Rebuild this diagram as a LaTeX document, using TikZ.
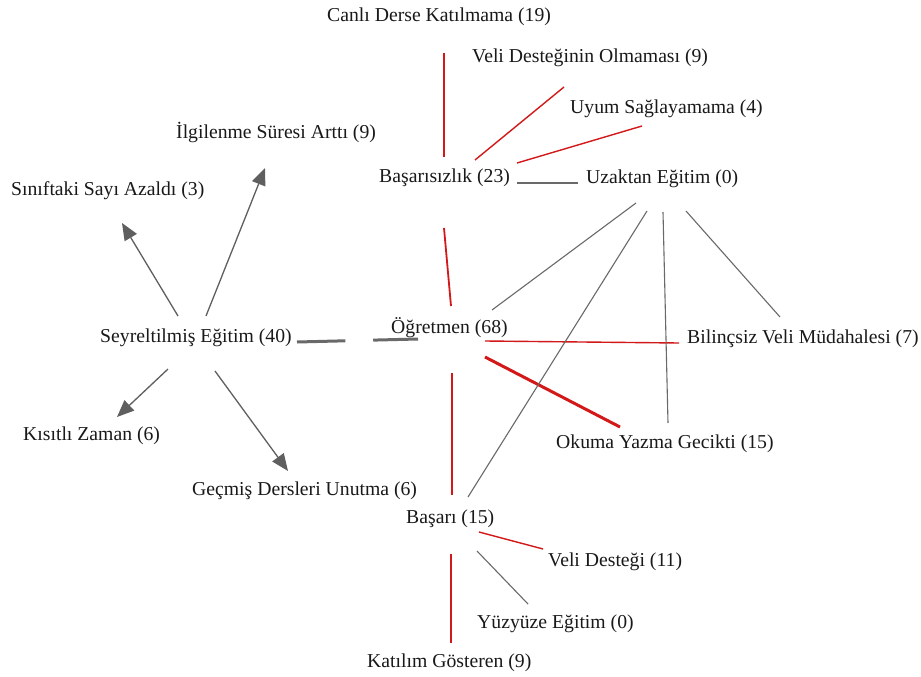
\documentclass[tikz,border=0pt]{standalone}
\usepackage{fontspec}
\setmainfont{Liberation Serif}
\usetikzlibrary{arrows.meta,calc}
\definecolor{linkred}{RGB}{210,24,24}
\definecolor{linkgray}{RGB}{105,105,105}
\definecolor{arrgray}{RGB}{95,95,95}
\tikzset{
  lbl/.style={anchor=base west,inner sep=0pt,font=\fontsize{19.7}{23}\selectfont,text=black!90},
  rl/.style={draw=linkred,line width=1.4pt},
  rlthick/.style={draw=linkred,line width=3pt},
  gl/.style={draw=linkgray,line width=1.1pt},
  glthick/.style={draw=linkgray,line width=3pt},
  arr/.style={draw=arrgray,line width=1.3pt,-{Triangle[length=17pt,width=14pt]}}
}
\begin{document}
\begin{tikzpicture}[x=1pt,y=-1pt]
\useasboundingbox[fill=white] (0,0) rectangle (921,677);
% nodes
\node[lbl] (canli)  at (327,22)  {Canlı Derse Katılmama (19)};
\node[lbl] (velio)  at (472,63)  {Veli Desteğinin Olmaması (9)};
\node[lbl] (uyum)   at (570,113) {Uyum Sağlayamama (4)};
\node[lbl] (ilgi)   at (176,138) {İlgilenme Süresi Arttı (9)};
\node[lbl] (sinif)  at (11,195)  {Sınıftaki Sayı Azaldı (3)};
\node[lbl] (basz)   at (379,182) {Başarısızlık (23)};
\node[lbl] (uzak)   at (586,183) {Uzaktan Eğitim (0)};
\node[lbl] (seyr)   at (100,342) {Seyreltilmiş Eğitim (40)};
\node[lbl] (ogr)    at (391,333) {Öğretmen (68)};
\node[lbl] (bilinc) at (687,343) {Bilinçsiz Veli Müdahalesi (7)};
\node[lbl] (kisit)  at (23,440)  {Kısıtlı Zaman (6)};
\node[lbl] (okuma)  at (556,448) {Okuma Yazma Gecikti (15)};
\node[lbl] (gecmis) at (192,495) {Geçmiş Dersleri Unutma (6)};
\node[lbl] (basari) at (406,523) {Başarı (15)};
\node[lbl] (velid)  at (548,566) {Veli Desteği (11)};
\node[lbl] (yuz)    at (477,628) {Yüzyüze Eğitim (0)};
\node[lbl] (katil)  at (367,667) {Katılım Gösteren (9)};
% red links
\draw[rl] ($(canli.base west)+(117,31)$) -- ($(basz.base west)+(65,-25)$);
\draw[rl] ($(velio.base west)+(92,24)$) -- ($(basz.base west)+(96,-22)$);
\draw[rl] ($(uyum.base west)+(72,13)$) -- ($(basz.base west)+(138,-19)$);
\draw[rl,line width=1.8pt] ($(basz.base west)+(65,46)$) -- ($(ogr.base west)+(60,-27)$);
\draw[rl] ($(ogr.base west)+(94,8)$) -- ($(bilinc.base west)+(-8,0)$);
\draw[rlthick] ($(ogr.base west)+(94,24)$) -- ($(okuma.base west)+(64,-21)$);
\draw[rl] ($(ogr.base west)+(61,40)$) -- ($(basari.base west)+(46,-28)$);
\draw[rl] ($(basari.base west)+(73,9)$) -- ($(velid.base west)+(-5,-17)$);
\draw[rl] ($(basari.base west)+(45,31)$) -- ($(katil.base west)+(84,-24)$);
% gray links
\draw[gl] ($(basz.base west)+(138,1)$) -- ($(uzak.base west)+(-8,0)$);
\draw[gl] ($(uzak.base west)+(50,20)$) -- ($(ogr.base west)+(101,-23)$);
\draw[gl] ($(uzak.base west)+(61,28)$) -- ($(basari.base west)+(62,-26)$);
\draw[gl] ($(uzak.base west)+(77,29)$) -- ($(okuma.base west)+(112,-25)$);
\draw[gl] ($(uzak.base west)+(100,28)$) -- ($(bilinc.base west)+(93,-26)$);
\draw[gl] ($(basari.base west)+(71,28)$) -- ($(yuz.base west)+(51,-24)$);
\coordinate (sA) at ($(seyr.base west)+(197,0)$);
\coordinate (sB) at ($(ogr.base west)+(27,6)$);
\draw[glthick] (sA) -- ($(sA)!0.4!(sB)$) ($(sA)!0.63!(sB)$) -- (sB);
% arrows
\draw[arr] ($(seyr.base west)+(78,-26)$) -- ($(sinif.base west)+(111,28)$);
\draw[arr] ($(seyr.base west)+(106,-26)$) -- ($(ilgi.base west)+(89,30)$);
\draw[arr] ($(seyr.base west)+(68,27)$) -- ($(kisit.base west)+(94,-23)$);
\draw[arr] ($(seyr.base west)+(115,29)$) -- ($(gecmis.base west)+(96,-24)$);
\end{tikzpicture}
\end{document}
